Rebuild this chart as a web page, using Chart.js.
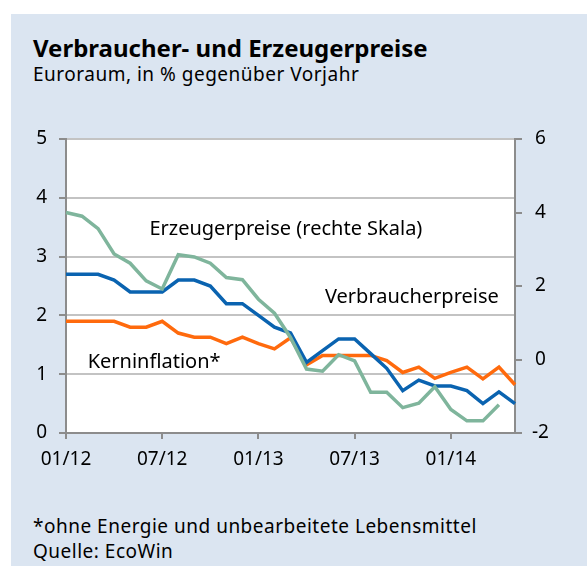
<!DOCTYPE html>
<html>
<head>
<meta charset="utf-8">
<script src="https://cdn.jsdelivr.net/npm/chart.js@4.4.1/dist/chart.umd.min.js"></script>
<style>
  body { margin: 0; width: 587px; height: 566px; background: #fff; overflow: hidden; font-family: "Noto Sans", sans-serif; }
  #panel { position: absolute; left: 11px; top: 14px; width: 576px; height: 552px; background: #dbe5f1; }
  .txt { position: absolute; left: 33px; color: #000; white-space: nowrap; line-height: normal; }
  #title { top: 31px; font-size: 24px; font-weight: bold; }
  #subtitle { top: 61px; font-size: 19px; letter-spacing: 0.5px; }
  #note { top: 513px; font-size: 19px; letter-spacing: 0.5px; }
  #source { top: 538px; font-size: 19px; letter-spacing: 0.5px; }
  #wrap { position: absolute; left: 0; top: 0; width: 587px; height: 566px; }
</style>
</head>
<body>
<div id="panel"></div>
<div class="txt" id="title">Verbraucher- und Erzeugerpreise</div>
<div class="txt" id="subtitle">Euroraum, in % gegenüber Vorjahr</div>
<div class="txt" id="note">*ohne Energie und unbearbeitete Lebensmittel</div>
<div class="txt" id="source">Quelle: EcoWin</div>
<div id="wrap"><canvas id="chart" width="587" height="566"></canvas></div>
<script>
// Monate 01/12 bis 05/14
const months = ['01/12', '02/12', '03/12', '04/12', '05/12', '06/12', '07/12', '08/12', '09/12', '10/12', '11/12', '12/12',
                '01/13', '02/13', '03/13', '04/13', '05/13', '06/13', '07/13', '08/13', '09/13', '10/13', '11/13', '12/13',
                '01/14', '02/14', '03/14', '04/14', '05/14'];
const shownTicks = ['01/12', '07/12', '01/13', '07/13', '01/14'];

// Verbraucherpreise (linke Skala)
const consumerPrices = [2.7, 2.7, 2.7, 2.6, 2.4, 2.4, 2.4, 2.6, 2.6, 2.5, 2.2, 2.2,
                        2.0, 1.8, 1.7, 1.2, 1.4, 1.6, 1.6, 1.35, 1.1, 0.72, 0.9, 0.8,
                        0.8, 0.72, 0.5, 0.7, 0.5];
// Kerninflation (linke Skala)
const coreInflation = [1.9, 1.9, 1.9, 1.9, 1.8, 1.8, 1.9, 1.7, 1.63, 1.63, 1.52, 1.63,
                       1.52, 1.43, 1.62, 1.16, 1.32, 1.32, 1.32, 1.32, 1.23, 1.03, 1.12, 0.93,
                       1.03, 1.12, 0.92, 1.12, 0.82];
// Erzeugerpreise (rechte Skala), Wert für 05/14 fehlt
const producerPrices = [4.0, 3.9, 3.56, 2.87, 2.62, 2.14, 1.92, 2.85, 2.79, 2.62, 2.23, 2.17,
                        1.64, 1.26, 0.6, -0.26, -0.32, 0.13, -0.04, -0.89, -0.89, -1.31, -1.19, -0.74,
                        -1.36, -1.67, -1.67, -1.23, null];

const axisGrey = '#8c8c8c';
const gridGrey = '#c3c3c3';
const tickFont = { family: 'Noto Sans', size: 19 };

// Beschriftungen im Diagramm (Position in Datenwerten: Monatsindex, linke Skala)
const inlineLabels = [
    { text: 'Erzeugerpreise (rechte Skala)', idx: 5.2, val: 3.47 },
    { text: 'Verbraucherpreise', idx: 16.15, val: 2.30 },
    { text: 'Kerninflation*', idx: 1.35, val: 1.21 }
];

const plotBackground = {
    id: 'plotBackground',
    beforeDraw(chart) {
        const { ctx, chartArea } = chart;
        ctx.save();
        ctx.fillStyle = '#ffffff';
        ctx.fillRect(chartArea.left, chartArea.top, chartArea.width, chartArea.height);
        ctx.restore();
    }
};

const labelPlugin = {
    id: 'labelPlugin',
    afterDatasetsDraw(chart) {
        const { ctx, scales } = chart;
        ctx.save();
        ctx.font = '20px "Noto Sans"';
        ctx.fillStyle = '#000';
        ctx.textBaseline = 'middle';
        ctx.textAlign = 'left';
        inlineLabels.forEach(l => {
            ctx.fillText(l.text, scales.x.getPixelForValue(l.idx), scales.y.getPixelForValue(l.val));
        });
        ctx.restore();
    }
};

new Chart(document.getElementById('chart').getContext('2d'), {
    type: 'line',
    data: {
        labels: months,
        datasets: [
            { label: 'Erzeugerpreise', data: producerPrices, yAxisID: 'y2', borderColor: '#7fb59c', borderWidth: 3.5 },
            { label: 'Verbraucherpreise', data: consumerPrices, yAxisID: 'y', borderColor: '#0a63b0', borderWidth: 3.5 },
            { label: 'Kerninflation*', data: coreInflation, yAxisID: 'y', borderColor: '#ff6a0d', borderWidth: 3.5 }
        ]
    },
    options: {
        responsive: false,
        animation: false,
        layout: { padding: { top: 139, left: 0, right: 0, bottom: 0 } },
        elements: { point: { radius: 0 }, line: { tension: 0, borderJoinStyle: 'miter' } },
        plugins: { legend: { display: false }, tooltip: { enabled: false } },
        scales: {
            x: {
                type: 'category',
                offset: false,
                afterFit(scale) { scale.height = 133; },
                grid: { drawOnChartArea: false, color: axisGrey, tickLength: 6, lineWidth: 2 },
                border: { color: axisGrey, width: 2 },
                ticks: {
                    autoSkip: false, maxRotation: 0, color: '#000', font: tickFont, padding: 9,
                    callback(value) {
                        const lbl = months[value];
                        return shownTicks.includes(lbl) ? lbl : null;
                    }
                }
            },
            y: {
                position: 'left',
                min: 0, max: 5,
                afterFit(scale) { scale.width = 66; },
                grid: { color: gridGrey, lineWidth: 2, tickColor: axisGrey, tickLength: 7 },
                border: { color: axisGrey, width: 2 },
                ticks: { stepSize: 1, color: '#000', font: tickFont, padding: 12 }
            },
            y2: {
                position: 'right',
                min: -2, max: 6,
                afterFit(scale) { scale.width = 72; },
                grid: { drawOnChartArea: false, color: axisGrey, lineWidth: 2, tickLength: 7 },
                border: { color: axisGrey, width: 2 },
                ticks: { stepSize: 2, color: '#000', font: tickFont, padding: 10, crossAlign: 'center' }
            }
        }
    },
    plugins: [plotBackground, labelPlugin]
});
</script>
</body>
</html>
